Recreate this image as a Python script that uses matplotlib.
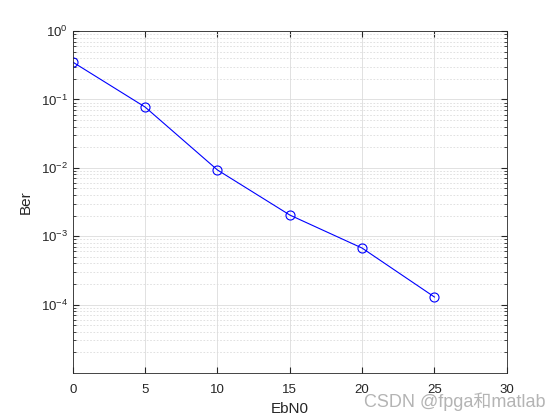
import numpy as np
import matplotlib
matplotlib.use("Agg")
import matplotlib.pyplot as plt
from matplotlib.ticker import LogLocator, NullFormatter

ebn0 = [0, 5, 10, 15, 20, 25]
ber = [0.352, 0.0774, 0.0093, 0.00204, 0.00067, 0.000129]
yticks = [1e-4, 1e-3, 1e-2, 1e-1, 1e0]

plt.rcParams['font.family'] = ['Liberation Sans', 'Noto Sans CJK SC', 'DejaVu Sans']

fig = plt.figure(figsize=(5.6, 4.2), dpi=100)
ax = fig.add_axes([0.13, 0.112, 0.775, 0.814])

ax.semilogy(ebn0, ber, color=(0, 0, 1), marker='o', markerfacecolor='none',
            markersize=6.5, linewidth=0.8, markeredgewidth=0.8)

ax.set_xlim(0, 30)
ax.set_ylim(1e-5, 1)
ax.set_xticks(range(0, 31, 5))
ax.set_yticks(yticks)
ax.yaxis.set_minor_locator(LogLocator(base=10, subs=np.arange(2, 10), numticks=10))
ax.yaxis.set_minor_formatter(NullFormatter())

ax.grid(True, which='major', color='#dcdcdc', linewidth=0.6)
ax.grid(True, which='minor', axis='y', color='#dcdcdc', linestyle=(0, (2, 2)), linewidth=0.6)
ax.set_axisbelow(True)

ax.tick_params(which='both', direction='in', top=True, right=True, labelsize=9.5, colors='#262626')
ax.tick_params(which='major', length=4)
ax.tick_params(axis='x', which='major', pad=8)
ax.tick_params(which='minor', length=2)
for s in ax.spines.values():
    s.set_color('#262626')
    s.set_linewidth(0.6)

ax.set_xlabel('EbN0', fontsize=11, color='#262626', labelpad=4)
ax.set_ylabel('Ber', fontsize=11, color='#262626', labelpad=6)

fig.text(0.975, 0.022, 'CSDN @fpga和matlab', ha='right', va='bottom',
         fontsize=13, color='#b4b4b4',
         family=['Liberation Sans', 'Noto Sans CJK SC'])

fig.savefig('out.png', dpi=100, facecolor='white')
